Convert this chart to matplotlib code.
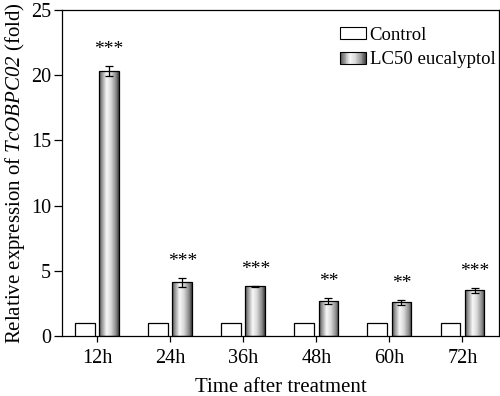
import numpy as np
import matplotlib
matplotlib.use("Agg")
import matplotlib.pyplot as plt
from matplotlib.patches import Rectangle
from matplotlib.legend_handler import HandlerBase
from matplotlib.colors import LinearSegmentedColormap

plt.rcParams['font.family'] = 'Liberation Serif'
plt.rcParams['mathtext.fontset'] = 'custom'
plt.rcParams['mathtext.it'] = 'Liberation Serif:italic'
plt.rcParams['mathtext.rm'] = 'Liberation Serif:italic'

times = ["12h", "24h", "36h", "48h", "60h", "72h"]
control = [1.0, 1.0, 1.0, 1.0, 1.0, 1.0]
treated = [20.35, 4.12, 3.81, 2.68, 2.58, 3.5]
treated_err = [0.38, 0.35, 0.05, 0.26, 0.2, 0.18]
stars = ["***", "***", "***", "**", "**", "***"]

# cylinder-like shading for the treated bars
shade = LinearSegmentedColormap.from_list(
    "shade", [(0.0, "#4a4a4a"), (0.12, "#8a8a8a"), (0.38, "#f8f8f8"),
              (0.6, "#d8d8d8"), (0.85, "#8c8c8c"), (1.0, "#404040")])


class GradientHandler(HandlerBase):
    def create_artists(self, legend, orig_handle, xdescent, ydescent,
                       width, height, fontsize, trans):
        n = 30
        arts = []
        for k in range(n):
            r = Rectangle((-xdescent + width * k / n, -ydescent), width / n + 0.3, height,
                          facecolor=shade((k + 0.5) / n), edgecolor='none', transform=trans)
            arts.append(r)
        arts.append(Rectangle((-xdescent, -ydescent), width, height, facecolor='none',
                              edgecolor='black', lw=0.8, transform=trans))
        return arts


fig = plt.figure(figsize=(5, 3.96), dpi=100)
ax = fig.add_axes([0.124, 0.1515, 0.874, 0.823])

x = np.arange(len(times))
w = 0.27
off = 0.165

ax.bar(x - off, control, w, color='white', edgecolor='black', lw=0.9, zorder=3)
tb = ax.bar(x + off, treated, w, color='none', edgecolor='black', lw=0.9, zorder=3)

grad = np.linspace(0, 1, 100).reshape(1, -1)
for b in tb:
    x0, y0 = b.get_x(), b.get_y()
    bw, bh = b.get_width(), b.get_height()
    im = ax.imshow(grad, cmap=shade, aspect='auto', extent=(x0, x0 + bw, y0, y0 + bh),
                   zorder=2, interpolation='bilinear')
    im.set_clip_path(b)

ax.errorbar(x + off, treated, yerr=treated_err, fmt='none', ecolor='black',
            elinewidth=0.9, capsize=3, capthick=0.9, zorder=4)

for xi, v, e, s in zip(x, treated, treated_err, stars):
    ax.text(xi + off, v + e + 0.6, s, ha='center', va='bottom', fontsize=14)

ax.set_xlim(-0.48, 5.5)
ax.set_ylim(0, 25)
ax.set_yticks([0, 5, 10, 15, 20, 25])
ax.set_xticks(x)
ax.set_xticklabels(times)
ax.tick_params(labelsize=14.5, direction='out', width=0.9)
ax.tick_params(axis='y', length=6, pad=2)
ax.tick_params(axis='x', length=4, pad=5)
for sp in ax.spines.values():
    sp.set_linewidth(0.9)

ax.set_xlabel("Time after treatment", fontsize=15, labelpad=7.5)
ax.set_ylabel(r"Relative expression of $TcOBPC02$ (fold)", fontsize=15, labelpad=3)

h1 = Rectangle((0, 0), 1, 1, facecolor='white', edgecolor='black', lw=0.8)
h2 = Rectangle((0, 0), 1, 1)
ax.legend([h1, h2], ["Control", "LC50 eucalyptol"], loc='upper right',
          bbox_to_anchor=(1.0, 0.96), frameon=False, fontsize=13.5,
          handlelength=1.35, handleheight=0.6, handletextpad=0.2,
          labelspacing=0.4, borderaxespad=0.0, borderpad=0.2,
          handler_map={h2: GradientHandler()})

fig.savefig("out.png", dpi=100)
